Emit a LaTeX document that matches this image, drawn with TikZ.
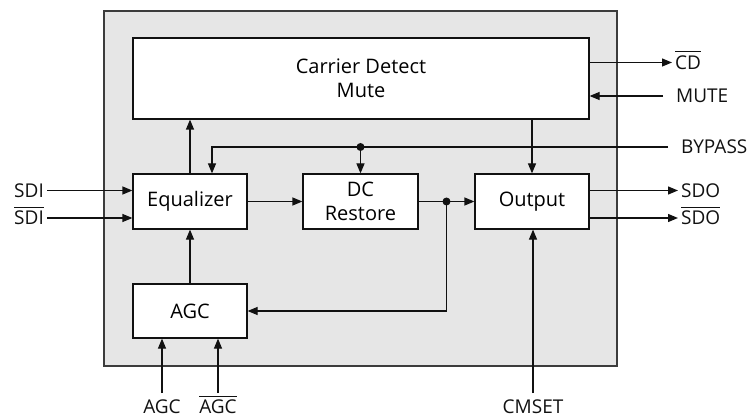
\documentclass[tikz,border=0pt]{standalone}
\usepackage{fontspec}
\setmainfont{Open Sans}
\usetikzlibrary{arrows.meta, positioning, calc}
\definecolor{panelgray}{HTML}{E6E6E6}
\definecolor{frame}{HTML}{3C3C3C}
\definecolor{ink}{HTML}{111111}

\newcommand{\negsig}[1]{\leavevmode\vbox{\hrule height 1pt\kern 3pt\hbox{#1}}}

\tikzset{
  block/.style={draw=ink, fill=white, line width=1.2pt, inner sep=0pt,
    align=center, font=\fontsize{20}{24}\selectfont},
  pin/.style={inner sep=3pt, text height=13.5pt, text depth=0pt,
    font=\fontsize{19}{23}\selectfont, text=ink},
  wire/.style={draw=ink, line width=1.2pt},
  joint/.style={circle, fill=ink, inner sep=0pt, minimum size=8pt},
}

\begin{document}
\begin{tikzpicture}[x=1pt, y=-1pt, >={Triangle[length=10pt, width=8pt]}]

\useasboundingbox (0,0) rectangle (753,417);

% Panel
\filldraw[fill=panelgray, draw=frame, line width=1.4pt] (104,11) rectangle (617,366);

% Blocks
\node[block, minimum width=456pt, minimum height=81pt] (cdm) at (361,78.5) {Carrier Detect\\Mute};
\node[block, minimum width=114pt, minimum height=55pt] (eq) at (190,201.5) {Equalizer};
\node[block, minimum width=115pt, minimum height=55pt] (dcr) at (360.5,201.5) {DC\\Restore};
\node[block, minimum width=114pt, minimum height=55pt] (outb) at (532,201.5) {Output};
\node[block, minimum width=114pt, minimum height=54pt] (agc) at (190,311) {AGC};

% Pins, left
\node[pin, anchor=east] (sdi) at (47,190.5) {SDI};
\node[pin, anchor=east] (sdib) at (47,218) {\negsig{SDI}};

% Pins, right
\node[pin, anchor=west] (cdb) at (672,62.5) {\negsig{CD}};
\node[pin, anchor=west] (mute) at (673,96) {MUTE};
\node[pin, anchor=west] (bypass) at (678,147) {BYPASS};
\node[pin, anchor=west] (sdo) at (678,190.5) {SDO};
\node[pin, anchor=west] (sdob) at (678,218) {\negsig{SDO}};

% Pins, bottom
\node[pin, anchor=north] (agcin) at (162,397) {AGC};
\node[pin, anchor=north] (agcbin) at (218,397) {\negsig{AGC}};
\node[pin, anchor=north] (cmset) at (533,397) {CMSET};

% Junctions
\coordinate (jb) at (dcr.north |- bypass.west);
\coordinate (jo) at ($(dcr.east)!0.5!(outb.west)$);

% Signal path
\draw[wire, ->] (sdi.east) -- (sdi.east -| eq.west);
\draw[wire, ->] (sdib.east) -- (sdib.east -| eq.west);
\draw[wire, ->] (eq) -- (dcr);
\draw[wire, ->] (dcr) -- (outb);
\draw[wire, ->] (outb.east |- sdo.west) -- (sdo.west);
\draw[wire, ->] (outb.east |- sdob.west) -- (sdob.west);

% Control
\draw[wire, ->] (eq.north) -- (eq.north |- cdm.south);
\draw[wire, ->] (cdm.south -| outb.north) -- (outb.north);
\draw[wire, ->] (cdm.east |- cdb.west) -- (cdb.west);
\draw[wire, ->, shorten <=10pt] (mute.west) -- (mute.west -| cdm.east);
\draw[wire, ->, shorten <=10pt] (bypass.west) -| ([xshift=22pt]eq.north);
\draw[wire, ->] (jb) -- (dcr.north);
\draw[wire, ->] (jo) |- (agc.east);
\draw[wire, ->] (agc) -- (eq);
\draw[wire, ->, shorten <=4pt] (agcin.north) -- (agcin.north |- agc.south);
\draw[wire, ->, shorten <=4pt] (agcbin.north) -- (agcbin.north |- agc.south);
\draw[wire, ->, shorten <=4pt] (cmset.north) -- (cmset.north |- outb.south);

\node[joint] (jbdot) at (jb) {};
\node[joint] (jodot) at (jo) {};

\end{tikzpicture}
\end{document}
